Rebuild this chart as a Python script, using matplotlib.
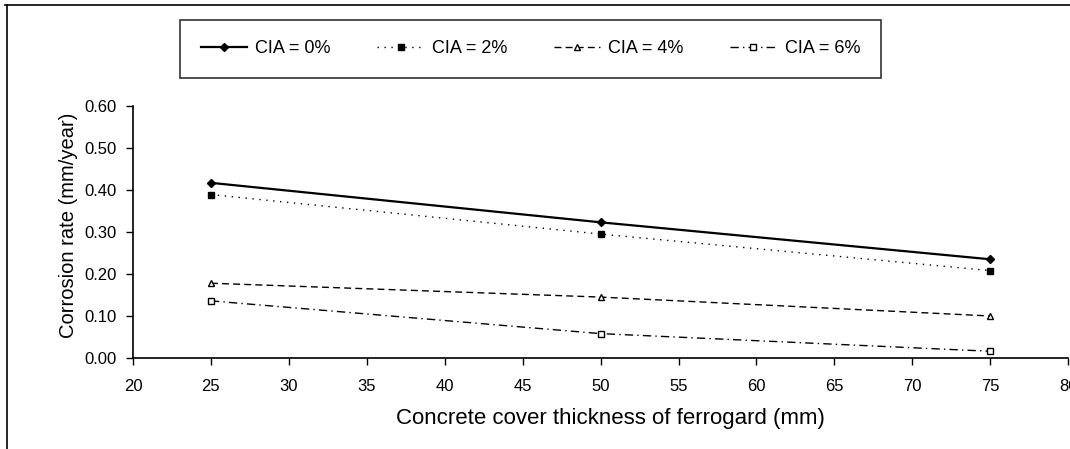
import matplotlib.pyplot as plt
from matplotlib.lines import Line2D

plt.rcParams['font.family'] = ['Liberation Sans', 'DejaVu Sans']

# cover thickness (mm) and corrosion rate (mm/year) for each CIA dose
cover = [25, 50, 75]
cia_0 = [0.417, 0.323, 0.235]
cia_2 = [0.389, 0.295, 0.208]
cia_4 = [0.178, 0.145, 0.100]
cia_6 = [0.136, 0.058, 0.016]
labels = ['CIA = 0%', 'CIA = 2%', 'CIA = 4%', 'CIA = 6%']
x_ticks = list(range(20, 85, 5))
y_ticks = [0.0, 0.1, 0.2, 0.3, 0.4, 0.5, 0.6]

fig = plt.figure(figsize=(10.7, 4.49), dpi=100)
ax = fig.add_axes([0.1243, 0.2027, 0.874, 0.5613])

ax.plot(cover, cia_0, color='black', lw=1.6, ls='-', marker='D', ms=4,
        label=labels[0])
ax.plot(cover, cia_2, color='black', lw=1.0, ls=(0, (1, 4)), marker='s', ms=4,
        label=labels[1])
ax.plot(cover, cia_4, color='black', lw=1.0, ls=(0, (5, 3)), marker='^', ms=5,
        mfc='white', label=labels[2])
ax.plot(cover, cia_6, color='black', lw=1.0, ls=(0, (6, 3, 1, 3)), marker='s',
        ms=4, mfc='white', label=labels[3])

ax.set_xlim(20, 80)
ax.set_ylim(0, 0.6)
ax.set_xticks(x_ticks)
ax.set_yticks(y_ticks)
ax.set_yticklabels(['%.2f' % v for v in y_ticks])
ax.tick_params(direction='out', length=5, width=1, labelsize=12)
ax.tick_params(axis='y', pad=7)
ax.tick_params(axis='x', pad=10)
for side in ['top', 'right']:
    ax.spines[side].set_visible(False)
for side in ['left', 'bottom']:
    ax.spines[side].set_linewidth(1.2)

ax.set_ylabel('Corrosion rate (mm/year)', fontsize=14.5)
ax.yaxis.set_label_coords(-0.059, 0.526)
ax.set_xlabel('Concrete cover thickness of ferrogard (mm)', fontsize=16)
ax.xaxis.set_label_coords(0.511, -0.2)

leg = fig.legend(loc='center', bbox_to_anchor=(0.4958, 0.891), ncol=4,
                 fontsize=13, frameon=True, fancybox=False, edgecolor='black',
                 handlelength=2.55, columnspacing=2.6, borderpad=1.15,
                 handletextpad=0.45)
leg.get_frame().set_linewidth(1.2)

# outer frame of the scanned chart
fig.add_artist(Line2D([0.005, 1.0], [0.989, 0.989], color='black', lw=1.2))
fig.add_artist(Line2D([0.007, 0.007], [0.0, 0.989], color='black', lw=1.2))

fig.savefig('out.png', dpi=100)
